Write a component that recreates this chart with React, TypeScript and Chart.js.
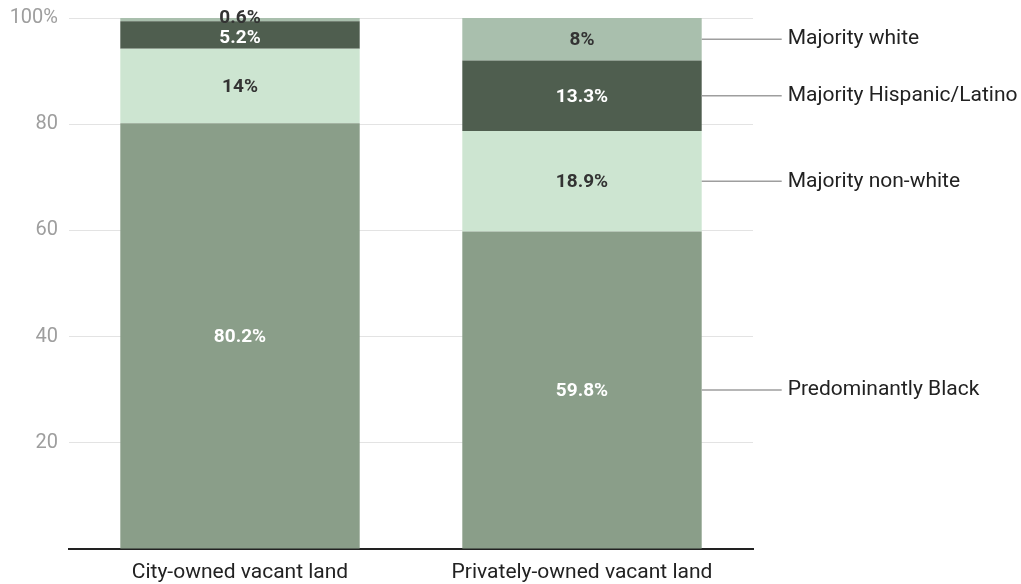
import React, { useEffect, useRef } from "react";
import { Chart, registerables } from "chart.js";

Chart.register(...registerables);

const categories = ["City-owned vacant land", "Privately-owned vacant land"];
const seriesNames = ["Predominantly Black", "Majority non-white", "Majority Hispanic/Latino", "Majority white"];
const blackValues = [80.2, 59.8];
const nonWhiteValues = [14, 18.9];
const hispanicValues = [5.2, 13.3];
const whiteValues = [0.6, 8];
const seriesColors = ["#8A9E89", "#CDE5D1", "#4F5E4F", "#A9BFAD"];
const labelColors = ["#FFFFFF", "#333333", "#FFFFFF", "#333333"];
const yTicks = [0, 20, 40, 60, 80, 100];

const FONT = "Roboto, 'Noto Sans', sans-serif";

const segmentLabels = {
  id: "segmentLabels",
  afterDatasetsDraw(chart: any) {
    const ctx = chart.ctx;
    ctx.save();
    ctx.font = `bold 19px ${FONT}`;
    ctx.textAlign = "center";
    ctx.textBaseline = "middle";
    chart.data.datasets.forEach((ds: any, di: number) => {
      const meta = chart.getDatasetMeta(di);
      meta.data.forEach((bar: any, i: number) => {
        const v = ds.data[i];
        let cy = (bar.y + bar.base) / 2 + 1;
        if (v < 1) cy -= 2;
        if (di === 2 && i === 0) cy += 2;
        ctx.fillStyle = labelColors[di];
        ctx.fillText(`${v}%`, bar.x, cy);
      });
    });
    ctx.restore();
  },
};

const sideLabels = {
  id: "sideLabels",
  afterDatasetsDraw(chart: any) {
    const ctx = chart.ctx;
    ctx.save();
    ctx.font = `21px ${FONT}`;
    ctx.textAlign = "left";
    ctx.textBaseline = "middle";
    const last = categories.length - 1;
    chart.data.datasets.forEach((ds: any, di: number) => {
      const bar: any = chart.getDatasetMeta(di).data[last];
      const cy = (bar.y + bar.base) / 2;
      const x0 = bar.x + bar.width / 2;
      ctx.strokeStyle = "#9E9E9E";
      ctx.lineWidth = 1.5;
      ctx.beginPath();
      ctx.moveTo(x0, cy);
      ctx.lineTo(x0 + 80, cy);
      ctx.stroke();
      ctx.fillStyle = "#222222";
      ctx.fillText(ds.label, x0 + 86, cy);
    });
    ctx.restore();
  },
};

export default function App() {
  const ref = useRef<HTMLCanvasElement>(null);
  useEffect(() => {
    document.body.style.margin = "0";
    const values = [blackValues, nonWhiteValues, hispanicValues, whiteValues];
    const chart = new Chart(ref.current!, {
      type: "bar",
      data: {
        labels: categories,
        datasets: seriesNames.map((name, i) => ({
          label: name,
          data: values[i],
          backgroundColor: seriesColors[i],
          borderWidth: 0,
          categoryPercentage: 0.7,
          barPercentage: 1,
        })),
      },
      options: {
        animation: false,
        responsive: false,
        layout: { padding: { left: 0, right: 268, top: 18, bottom: 0 } },
        plugins: { legend: { display: false }, tooltip: { enabled: false } },
        scales: {
          x: {
            stacked: true,
            grid: { display: false, drawTicks: false },
            border: { display: true, color: "#222222", width: 2 },
            ticks: { color: "#222222", font: { family: FONT, size: 21 }, padding: 11, maxRotation: 0 },
            afterFit(scale: any) {
              scale.height = 35;
              scale.paddingLeft = 0;
              scale.paddingRight = 0;
            },
          },
          y: {
            stacked: true,
            min: 0,
            max: 100,
            afterBuildTicks(scale: any) {
              scale.ticks = yTicks.map((v) => ({ value: v }));
            },
            grid: { color: "#E3E3E3", drawTicks: false, lineWidth: 1 },
            border: { display: false },
            ticks: {
              color: "#9E9E9E",
              font: { family: FONT, size: 20 },
              padding: 11,
              callback: (v: any) => (v === 100 ? "100%" : v === 0 ? "" : String(v)),
            },
            afterFit(scale: any) {
              scale.width = 69;
              scale.paddingTop = 0;
              scale.paddingBottom = 0;
            },
          },
        },
      },
      plugins: [segmentLabels, sideLabels],
    });
    return () => chart.destroy();
  }, []);
  return (
    <div style={{ width: 1021, height: 584 }}>
      <canvas ref={ref} width={1021} height={584} />
    </div>
  );
}
